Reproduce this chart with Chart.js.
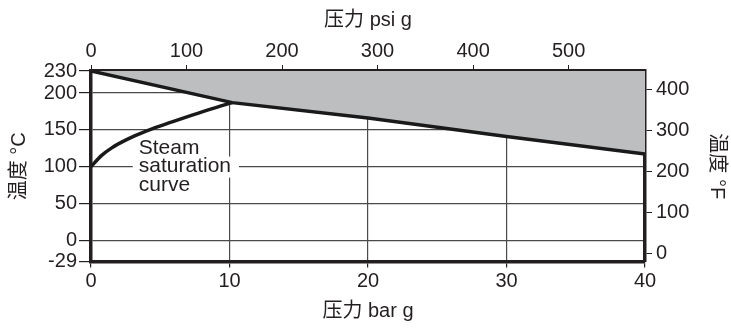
<!DOCTYPE html>
<html>
<head>
<meta charset="utf-8">
<script src="https://cdn.jsdelivr.net/npm/chart.js@4/dist/chart.umd.min.js"></script>
<style>
  html, body { margin: 0; padding: 0; background: #fff; }
  #wrap { width: 731px; height: 330px; }
</style>
</head>
<body>
<div id="wrap"><canvas id="chart" width="731" height="330"></canvas></div>
<script>
// Axis ranges and tick labels
const barTicks = [0, 10, 20, 30, 40];
const psiTicks = [0, 100, 200, 300, 400, 500];
const celsiusTicks = [-29, 0, 50, 100, 150, 200, 230];
const fahrenheitTicks = [0, 100, 200, 300, 400];
const barRange = [0, 40];
const celsiusRange = [-29, 230];

// Upper operating limit (bar g, °C)
const limitPressure = [0, 10.2, 20, 30, 40];
const limitTemp = [230, 187, 166, 141, 117];

// Steam saturation curve (bar g, °C)
const satPressure = [0, 0.75, 1.5, 2.5, 3.5, 4.5, 5.8, 7.3, 8.7, 10.2];
const satTemp = [100, 115, 125.5, 136, 144.5, 152, 160.5, 170, 178.5, 187];

// Curve annotation, anchored in data units
const noteLines = ['Steam', 'saturation', 'curve'];
const noteAnchor = { bar: 3.45, temp: 100 };

const INK = '#231f20';
const GRID = '#4a4a4a';
const FAMILY = "'Liberation Sans', Arial, 'Noto Sans CJK SC', sans-serif";
const tickFont = { family: FAMILY, size: 20 };
const titleFont = { family: FAMILY, size: 20 };

const toPsi = b => b * 14.5;
const toF = c => c * 9 / 5 + 32;

const limitData = limitPressure.map((p, i) => ({ x: p, y: limitTemp[i] }));
const satData = satPressure.map((p, i) => ({ x: p, y: satTemp[i] }));

const setTicks = list => scale => { scale.ticks = list.map(v => ({ value: v })); };

const notePlugin = {
  id: 'satNote',
  afterDatasetsDraw(chart) {
    const { ctx, scales } = chart;
    const x = scales.x.getPixelForValue(noteAnchor.bar);
    const yMid = scales.y.getPixelForValue(noteAnchor.temp);
    const lh = 18.5;
    ctx.save();
    ctx.font = `21px ${FAMILY}`;
    const w = ctx.measureText(noteLines[1]).width;
    ctx.fillStyle = '#ffffff';
    ctx.fillRect(x - 6, yMid - 10, w + 14, 21);
    ctx.fillStyle = INK;
    ctx.textBaseline = 'middle';
    ctx.textAlign = 'left';
    noteLines.forEach((t, i) => ctx.fillText(t, x, yMid + (i - 1) * lh));
    ctx.restore();
  }
};

new Chart(document.getElementById('chart'), {
  type: 'line',
  data: {
    datasets: [
      {
        label: 'limit',
        data: limitData,
        borderColor: '#1a1a1a',
        borderWidth: 3.5,
        backgroundColor: '#bcbec0',
        fill: 'end',
        pointRadius: 0,
        tension: 0,
        xAxisID: 'x',
        yAxisID: 'y'
      },
      {
        label: 'saturation',
        data: satData,
        borderColor: '#1a1a1a',
        borderWidth: 3.5,
        fill: false,
        pointRadius: 0,
        cubicInterpolationMode: 'monotone',
        xAxisID: 'x',
        yAxisID: 'y'
      }
    ]
  },
  options: {
    responsive: false,
    animation: false,
    layout: { padding: 0 },
    plugins: { legend: { display: false }, tooltip: { enabled: false } },
    scales: {
      x: {
        type: 'linear', position: 'bottom',
        min: barRange[0], max: barRange[1],
        afterBuildTicks: setTicks(barTicks),
        grid: { color: GRID, lineWidth: 1.2, tickLength: 6, tickColor: INK },
        border: { color: INK, width: 3.5 },
        ticks: { color: INK, font: tickFont, padding: 2, maxRotation: 0 },
        title: { display: true, text: '压力 bar g', color: INK, font: titleFont, padding: { top: 0, bottom: 7 } },
        afterFit: s => { s.height = 68.5; }
      },
      x2: {
        type: 'linear', position: 'top',
        min: toPsi(barRange[0]), max: toPsi(barRange[1]),
        afterBuildTicks: setTicks(psiTicks),
        grid: { drawOnChartArea: false, tickLength: 6, tickColor: INK },
        border: { color: INK, width: 3.5 },
        ticks: { color: INK, font: tickFont, padding: 2, maxRotation: 0 },
        title: { display: true, text: '压力 psi g', color: INK, font: titleFont, padding: { top: 8, bottom: 0 } },
        afterFit: s => { s.height = 71; }
      },
      y: {
        type: 'linear', position: 'left',
        min: celsiusRange[0], max: celsiusRange[1],
        afterBuildTicks: setTicks(celsiusTicks),
        grid: { color: GRID, lineWidth: 1.2, tickLength: 12, tickColor: INK },
        border: { color: INK, width: 3.5 },
        ticks: { color: INK, font: tickFont, padding: 2 },
        title: { display: true, text: '温度 °C', color: INK, font: titleFont, padding: { top: 7, bottom: 0 } },
        afterFit: s => { s.width = 91; }
      },
      y2: {
        type: 'linear', position: 'right',
        min: toF(celsiusRange[0]), max: toF(celsiusRange[1]),
        afterBuildTicks: setTicks(fahrenheitTicks),
        grid: { drawOnChartArea: false, tickLength: 7, tickColor: INK },
        border: { color: INK, width: 3.5 },
        ticks: { color: INK, font: tickFont, padding: 4 },
        title: { display: true, text: '温度 °F', color: INK, font: titleFont, padding: { top: 2, bottom: 0 } },
        afterFit: s => { s.width = 86; }
      }
    }
  },
  plugins: [notePlugin]
});
</script>
</body>
</html>
